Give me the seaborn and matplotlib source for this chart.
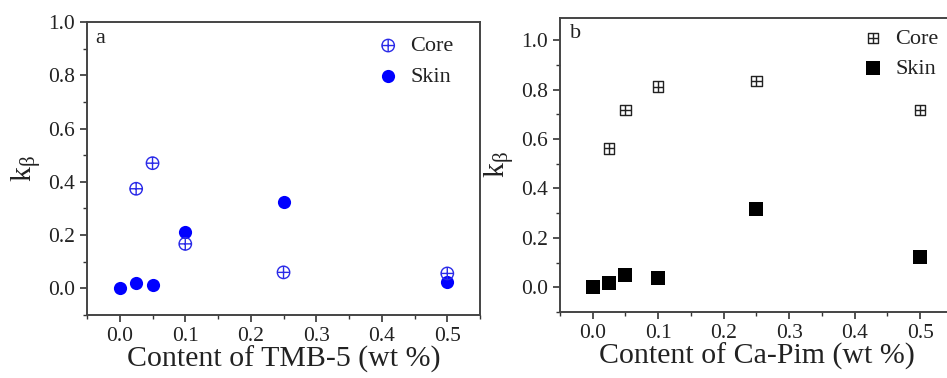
import numpy as np
import pandas as pd
import matplotlib
matplotlib.use("Agg")
import matplotlib.pyplot as plt
from matplotlib.path import Path
from matplotlib.ticker import MultipleLocator, FormatStrFormatter
import seaborn as sns

# Data
x_a = [0.0, 0.025, 0.05, 0.1, 0.25, 0.5]
core_a_x = [0.025, 0.05, 0.1, 0.25, 0.5]
core_a = [0.374, 0.47, 0.167, 0.06, 0.056]
skin_a = [0.0, 0.019, 0.012, 0.212, 0.325, 0.024]

core_b_x = [0.025, 0.05, 0.1, 0.25, 0.5]
core_b = [0.562, 0.718, 0.812, 0.834, 0.716]
x_b = [0.0, 0.025, 0.05, 0.1, 0.25, 0.5]
skin_b = [0.0, 0.016, 0.05, 0.038, 0.318, 0.124]

xticks = [0.0, 0.1, 0.2, 0.3, 0.4, 0.5]
yticks = [0.0, 0.2, 0.4, 0.6, 0.8, 1.0]

sns.set_style("ticks")
plt.rcParams['font.family'] = ['Liberation Serif', 'DejaVu Serif']
plt.rcParams['mathtext.fontset'] = 'custom'
plt.rcParams['mathtext.rm'] = 'Liberation Serif'
plt.rcParams['mathtext.it'] = 'Liberation Serif:italic'

# marker paths
circle = Path.unit_circle()
cross = Path([(-1, 0), (1, 0), (0, -1), (0, 1)],
             [Path.MOVETO, Path.LINETO, Path.MOVETO, Path.LINETO])
circ_plus = Path.make_compound_path(circle, cross)
square = Path([(-1, -1), (1, -1), (1, 1), (-1, 1), (-1, -1)],
              [Path.MOVETO, Path.LINETO, Path.LINETO, Path.LINETO, Path.CLOSEPOLY])
sq_plus = Path.make_compound_path(square, cross)

fig = plt.figure(figsize=(9.47, 3.78), dpi=100)
ax1 = fig.add_axes([0.0919, 0.1667, 0.415, 0.775])
ax2 = fig.add_axes([0.5913, 0.1746, 0.415, 0.778])

blue = '#0000ff'
df_ca = pd.DataFrame({'x': core_a_x, 'y': core_a})
df_sa = pd.DataFrame({'x': x_a, 'y': skin_a})
sns.scatterplot(data=df_ca, x='x', y='y', ax=ax1, marker=circ_plus, s=80,
                facecolor='none', edgecolor='#2a2ae8', linewidth=1.0, label='Core', zorder=3)
sns.scatterplot(data=df_sa, x='x', y='y', ax=ax1, marker='o', s=90,
                color=blue, edgecolor=blue, linewidth=0, label='Skin', zorder=2)

df_cb = pd.DataFrame({'x': core_b_x, 'y': core_b})
df_sb = pd.DataFrame({'x': x_b, 'y': skin_b})
sns.scatterplot(data=df_cb, x='x', y='y', ax=ax2, marker=sq_plus, s=55,
                facecolor='none', edgecolor='#222222', linewidth=1.0, label='Core', zorder=3)
sns.scatterplot(data=df_sb, x='x', y='y', ax=ax2, marker='s', s=88,
                color='black', edgecolor='black', linewidth=0, label='Skin', zorder=2)

setup = [(ax1, 'Content of TMB-5 (wt %)', (-0.1, 1.0), 'a', (0.02, 0.975), (0.738, 0.953)),
         (ax2, 'Content of Ca-Pim (wt %)', (-0.1, 1.09), 'b', (0.025, 0.98), (0.768, 0.965))]
for ax, xl, ylim, lab, labpos, legpos in setup:
    ax.set_xlim(-0.05, 0.55)
    ax.set_ylim(*ylim)
    ax.set_xticks(xticks)
    ax.set_yticks(yticks)
    ax.xaxis.set_minor_locator(MultipleLocator(0.05))
    ax.yaxis.set_minor_locator(MultipleLocator(0.1))
    ax.xaxis.set_major_formatter(FormatStrFormatter('%.1f'))
    ax.yaxis.set_major_formatter(FormatStrFormatter('%.1f'))
    ax.tick_params(axis='both', which='major', direction='out', length=5, width=1.2,
                   labelsize=15.5, colors='#333333', labelcolor='#222222', top=False, right=False)
    ax.tick_params(axis='both', which='minor', direction='out', length=3, width=1.0,
                   colors='#333333', top=False, right=False)
    for sp in ax.spines.values():
        sp.set_visible(True)
        sp.set_linewidth(1.4)
        sp.set_color('#444444')
    ax.set_xlabel(xl, fontsize=21.5, color='#222222', labelpad=0)
    ax.set_ylabel(r'k$_{\mathrm{β}}$', fontsize=21.5, color='#222222', labelpad=4)
    ax.text(labpos[0], labpos[1], lab, transform=ax.transAxes, fontsize=16, va='top',
            ha='left', color='#222222')
    leg = ax.legend(loc='upper left', bbox_to_anchor=legpos, frameon=False, fontsize=16,
                    handlelength=1.0, handletextpad=0.5, labelspacing=0.45,
                    borderaxespad=0, borderpad=0)
    for t in leg.get_texts():
        t.set_color('#222222')

fig.savefig('out.png', dpi=100, facecolor='white')
